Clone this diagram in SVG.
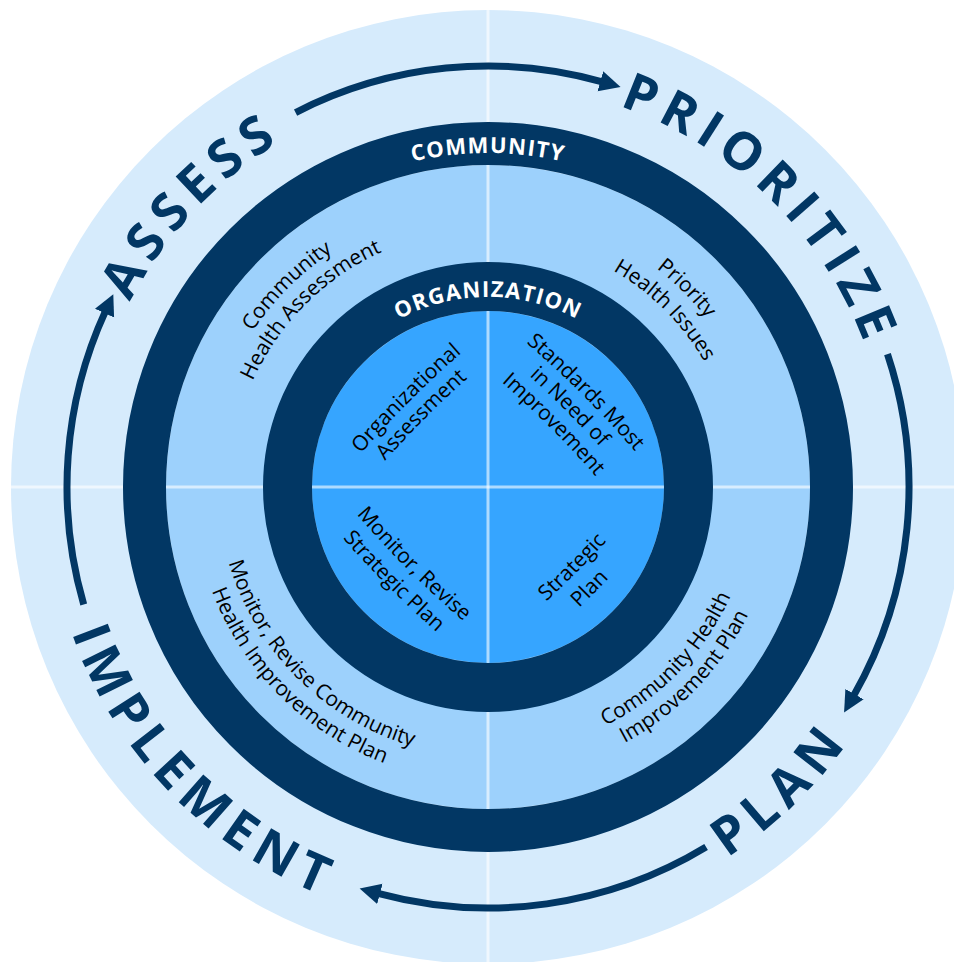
<svg xmlns="http://www.w3.org/2000/svg" width="954" height="962" viewBox="0 0 954 962">
<style>
.big{font-family:"Open Sans","Liberation Sans",sans-serif;font-weight:700;font-size:52px;fill:#023764;letter-spacing:8px}
.ring{font-family:"Open Sans","Liberation Sans",sans-serif;font-weight:700;font-size:22px;fill:#ffffff;letter-spacing:1.2px}
.lbl{font-family:"Open Sans","Liberation Sans",sans-serif;font-size:21px;fill:#000000}
.ilbl{font-family:"Open Sans","Liberation Sans",sans-serif;font-size:21px;fill:#000000}
.arc{fill:none;stroke:#023764;stroke-width:7;marker-end:url(#ah)}
</style>
<defs>
<marker id="ah" markerUnits="userSpaceOnUse" viewBox="0 0 22 22" markerWidth="22" markerHeight="22" refX="2" refY="11" orient="auto">
<path d="M0,0.5 L21,11 L0,21.5 Z" fill="#023764"/>
</marker>
<path id="pAssess" d="M85.75,462.4 A403,403 0 0 1 442.38,86.59"/>
<path id="pPrior" d="M484.48,84.02 A403,403 0 0 1 890.98,483.48"/>
<path id="pPlan" d="M594.69,914.90 A441,441 0 0 0 911.92,608.56"/>
<path id="pImpl" d="M48.08,517.76 A441,441 0 0 0 441.90,925.58"/>
<path id="pComm" d="M273.31,231.14 A334,334 0 0 1 702.69,231.14"/>
<path id="pOrg" d="M323.45,392 A190,190 0 0 1 652.55,392"/>
<path id="tl1" d="M207.07,462.42 A282,282 0 0 1 463.42,206.07"/>
<path id="tl2" d="M230.98,464.51 A258,258 0 0 1 465.51,229.98"/>
<path id="tr1" d="M512.06,212.05 A276,276 0 0 1 762.95,462.94"/>
<path id="tr2" d="M509.79,237.95 A250,250 0 0 1 737.05,465.21"/>
<path id="bl1" d="M219.03,510.53 A270,270 0 0 0 464.47,755.97"/>
<path id="bl2" d="M194.12,512.71 A295,295 0 0 0 462.29,780.88"/>
<path id="br1" d="M515.80,751.54 A266,266 0 0 0 753.35,505.56"/>
<path id="br2" d="M518.31,775.41 A290,290 0 0 0 777.29,507.23"/>
<path id="itl1" d="M348.71,467.91 Q406.69,398.61 475.99,340.63"/>
<path id="itl2" d="M364.26,484.88 Q422.24,415.58 491.54,357.60"/>
<path id="itr1" d="M516.28,334.26 Q585.58,392.24 643.56,461.54"/>
<path id="itr2" d="M499.31,349.83 Q568.61,407.81 626.59,477.11"/>
<path id="itr3" d="M483.75,366.79 Q553.05,424.77 611.03,494.07"/>
<path id="ibl1" d="M347.28,503.26 Q405.26,572.56 474.56,630.54"/>
<path id="ibl2" d="M327.49,520.23 Q385.47,589.53 454.77,647.51"/>
<path id="ibr1" d="M510.62,632.66 Q579.92,574.68 637.90,505.38"/>
<path id="ibr2" d="M527.60,653.88 Q596.90,595.90 654.88,526.60"/>
</defs>
<g id="background">
<circle cx="488" cy="487" r="477" fill="#d6ebfc"/>
<circle cx="488" cy="487" r="322" fill="#9dd1fc"/>
<circle cx="488" cy="487" r="176" fill="#36a5ff"/>
<g stroke="#ffffff" stroke-opacity="0.6" stroke-width="3">
<line x1="488" y1="10" x2="488" y2="962"/>
<line x1="11" y1="487" x2="954" y2="487"/>
</g>
<circle cx="488" cy="487" r="343.5" fill="none" stroke="#023764" stroke-width="43"/>
<circle cx="488" cy="487" r="200.5" fill="none" stroke="#023764" stroke-width="49"/>
</g>
<g id="connectors">
<path class="arc" d="M295.59,112.54 A421,421 0 0 1 602.28,81.80"/>
<path class="arc" d="M887.48,354.11 A421,421 0 0 1 853.51,695.90"/>
<path class="arc" d="M706.09,847.11 A421,421 0 0 1 377.97,893.37"/>
<path class="arc" d="M83.72,604.45 A421,421 0 0 1 105.37,311.41"/>
</g>
<g id="assess"><text class="big"><textPath href="#pAssess" startOffset="50%" text-anchor="middle">ASSESS</textPath></text></g>
<g id="prioritize"><text class="big" style="letter-spacing:7.5px"><textPath href="#pPrior" startOffset="50%" text-anchor="middle">PRIORITIZE</textPath></text></g>
<g id="plan"><text class="big"><textPath href="#pPlan" startOffset="50%" text-anchor="middle">PLAN</textPath></text></g>
<g id="implement"><text class="big"><textPath href="#pImpl" startOffset="50%" text-anchor="middle">IMPLEMENT</textPath></text></g>
<g id="community"><text class="ring"><textPath href="#pComm" startOffset="50%" text-anchor="middle">COMMUNITY</textPath></text></g>
<g id="organization"><text class="ring"><textPath href="#pOrg" startOffset="50%" text-anchor="middle">ORGANIZATION</textPath></text></g>
<g id="community-health-assessment">
<text class="lbl"><textPath href="#tl1" startOffset="50%" text-anchor="middle">Community</textPath></text>
<text class="lbl"><textPath href="#tl2" startOffset="50%" text-anchor="middle">Health Assessment</textPath></text>
</g>
<g id="priority-health-issues">
<text class="lbl"><textPath href="#tr1" startOffset="50%" text-anchor="middle">Priority</textPath></text>
<text class="lbl"><textPath href="#tr2" startOffset="50%" text-anchor="middle">Health Issues</textPath></text>
</g>
<g id="monitor-chip">
<text class="lbl"><textPath href="#bl1" startOffset="50%" text-anchor="middle">Monitor, Revise Community</textPath></text>
<text class="lbl"><textPath href="#bl2" startOffset="50%" text-anchor="middle">Health Improvement Plan</textPath></text>
</g>
<g id="chip">
<text class="lbl"><textPath href="#br1" startOffset="50%" text-anchor="middle">Community Health</textPath></text>
<text class="lbl"><textPath href="#br2" startOffset="50%" text-anchor="middle">Improvement Plan</textPath></text>
</g>
<g id="organizational-assessment">
<text class="ilbl"><textPath href="#itl1" startOffset="50%" text-anchor="middle">Organizational</textPath></text>
<text class="ilbl"><textPath href="#itl2" startOffset="50%" text-anchor="middle">Assessment</textPath></text>
</g>
<g id="standards">
<text class="ilbl"><textPath href="#itr1" startOffset="50%" text-anchor="middle">Standards Most</textPath></text>
<text class="ilbl"><textPath href="#itr2" startOffset="50%" text-anchor="middle">in Need of</textPath></text>
<text class="ilbl"><textPath href="#itr3" startOffset="50%" text-anchor="middle">Improvement</textPath></text>
</g>
<g id="monitor-strategic-plan">
<text class="ilbl"><textPath href="#ibl1" startOffset="50%" text-anchor="middle">Monitor, Revise</textPath></text>
<text class="ilbl"><textPath href="#ibl2" startOffset="50%" text-anchor="middle">Strategic Plan</textPath></text>
</g>
<g id="strategic-plan">
<text class="ilbl"><textPath href="#ibr1" startOffset="50%" text-anchor="middle">Strategic</textPath></text>
<text class="ilbl"><textPath href="#ibr2" startOffset="50%" text-anchor="middle">Plan</textPath></text>
</g>
</svg>
